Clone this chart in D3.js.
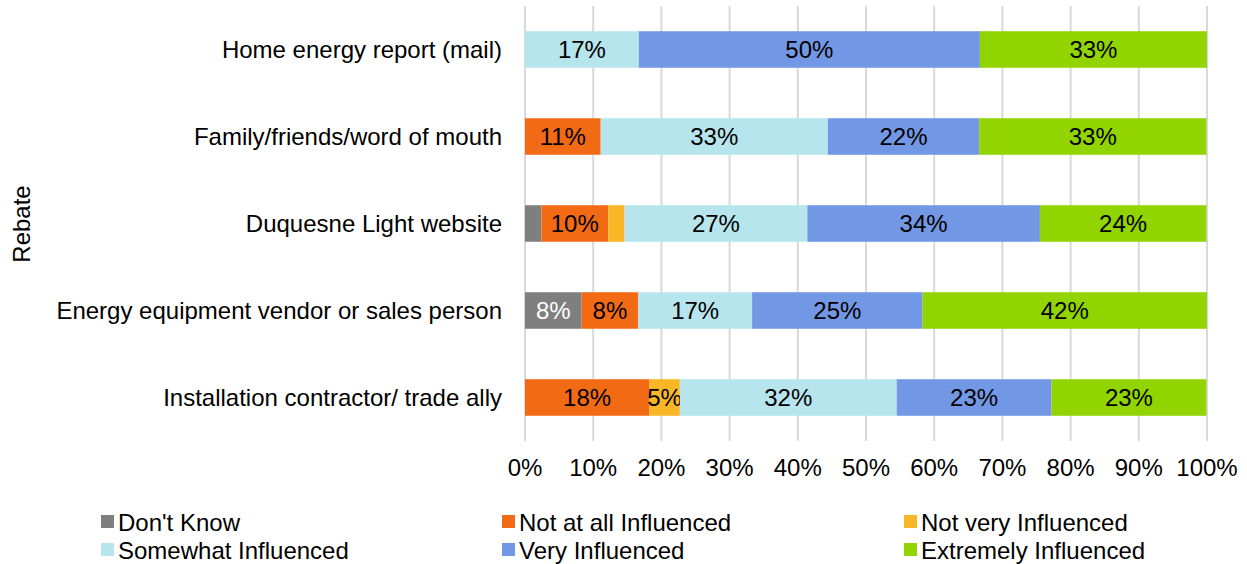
<!DOCTYPE html>
<html>
<head>
<meta charset="utf-8">
<script src="https://cdn.jsdelivr.net/npm/d3@7"></script>
<style>
  body { margin: 0; background: #fff; }
  text { font-family: "Liberation Sans", Arial, sans-serif; }
</style>
</head>
<body>
<div id="chart"></div>
<script>
// data (shares of respondents, %)
let categories = ["Home energy report (mail)", "Family/friends/word of mouth", "Duquesne Light website",
                  "Energy equipment vendor or sales person", "Installation contractor/ trade ally"];
let series = ["Don't Know", "Not at all Influenced", "Not very Influenced",
              "Somewhat Influenced", "Very Influenced", "Extremely Influenced"];
let dontKnow   = [0, 0, 2.4, 8.3, 0];
let notAtAll   = [0, 11.1, 9.8, 8.3, 18.2];
let notVery    = [0, 0, 2.4, 0, 4.5];
let somewhat   = [16.7, 33.3, 26.8, 16.7, 31.8];
let very       = [50, 22.2, 34.1, 25, 22.7];
let extremely  = [33.3, 33.3, 24.4, 41.7, 22.7];
let ticks = [0, 10, 20, 30, 40, 50, 60, 70, 80, 90, 100];

let colors = ["#7f7f7f", "#f26b14", "#f9b626", "#b6e5ed", "#7297e4", "#92d400"];
let labelColors = ["#fff", "#000", "#000", "#000", "#000", "#000"];

let width = 1247, height = 564;
let margin = {left: 525, right: 40, top: 6, bottom: 123};
let fs = 24;

let svg = d3.select("#chart").append("svg")
  .attr("width", width)
  .attr("height", height);

let x = d3.scaleLinear().domain([0, 100]).range([margin.left, 1207]);
let y = d3.scaleBand().domain(categories).range([margin.top, height - margin.bottom]).paddingInner(0.58).paddingOuter(0.29);

// table the stack needs
let rows = categories.map(function(c, i) {
  return {cat: c, "Don't Know": dontKnow[i], "Not at all Influenced": notAtAll[i],
          "Not very Influenced": notVery[i], "Somewhat Influenced": somewhat[i],
          "Very Influenced": very[i], "Extremely Influenced": extremely[i]};
});
let stacked = d3.stack().keys(series)(rows);

// gridlines
svg.append("g").selectAll("line")
  .data(ticks)
  .enter().append("line")
  .attr("x1", d => x(d)).attr("x2", d => x(d))
  .attr("y1", margin.top).attr("y2", height - margin.bottom)
  .attr("stroke", "#d9d9d9")
  .attr("stroke-width", 2);

// bars
let layers = svg.append("g").selectAll("g")
  .data(stacked)
  .enter().append("g")
  .attr("fill", (d, i) => colors[i]);

layers.selectAll("rect")
  .data(d => d)
  .enter().append("rect")
  .attr("x", d => x(d[0]))
  .attr("width", d => x(d[1]) - x(d[0]))
  .attr("y", d => y(d.data.cat))
  .attr("height", y.bandwidth());

layers.selectAll("text")
  .data((d, i) => d.map(p => ({p: p, i: i})).filter(o => o.p[1] - o.p[0] >= 4))
  .enter().append("text")
  .attr("x", o => (x(o.p[0]) + x(o.p[1])) / 2)
  .attr("y", o => y(o.p.data.cat) + y.bandwidth() / 2)
  .attr("dy", "0.36em")
  .attr("text-anchor", "middle")
  .attr("font-size", fs)
  .attr("fill", o => labelColors[o.i])
  .text(o => Math.round(o.p[1] - o.p[0]) + "%");

// category labels
svg.append("g").selectAll("text")
  .data(categories)
  .enter().append("text")
  .attr("x", 502)
  .attr("y", d => y(d) + y.bandwidth() / 2)
  .attr("dy", "0.36em")
  .attr("text-anchor", "end")
  .attr("font-size", fs)
  .attr("fill", "#000")
  .text(d => d);

// x tick labels
svg.append("g").selectAll("text")
  .data(ticks)
  .enter().append("text")
  .attr("x", d => x(d))
  .attr("y", 476)
  .attr("text-anchor", "middle")
  .attr("font-size", fs)
  .attr("fill", "#000")
  .text(d => d + "%");

// axis title
svg.append("text")
  .attr("transform", "translate(30,224) rotate(-90)")
  .attr("text-anchor", "middle")
  .attr("font-size", fs)
  .attr("fill", "#000")
  .text("Rebate");

// legend
let legX = [101, 502, 904];
let legend = svg.append("g").selectAll("g")
  .data(series)
  .enter().append("g")
  .attr("transform", (d, i) => "translate(" + legX[i % 3] + "," + (522 + Math.floor(i / 3) * 28) + ")");

legend.append("rect")
  .attr("x", 0).attr("y", -7)
  .attr("width", 13).attr("height", 13)
  .attr("fill", (d, i) => colors[i]);

legend.append("text")
  .attr("x", 17)
  .attr("y", 0)
  .attr("dy", "0.36em")
  .attr("font-size", fs)
  .attr("fill", "#000")
  .text(d => d);
</script>
</body>
</html>
